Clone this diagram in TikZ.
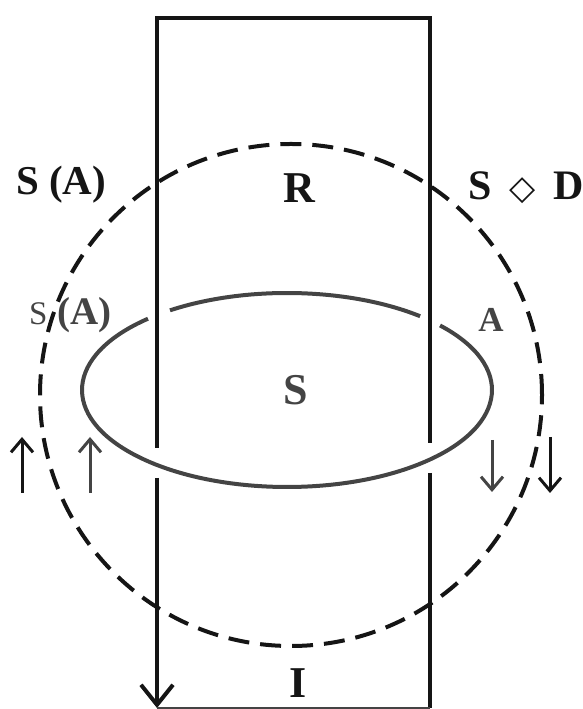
\documentclass[tikz,border=0pt]{standalone}
\usepackage{fontspec}
\setmainfont{Liberation Serif}
\newfontfamily\symfont{DejaVu Sans}
\usetikzlibrary{arrows.meta}
\definecolor{ink}{HTML}{151515}
\definecolor{lead}{HTML}{444444}

\tikzset{
  wall/.style={draw=ink,line width=4pt},
  ring/.style={draw=ink,line width=4pt,dash pattern=on 21pt off 11pt},
  disc/.style={draw=lead,line width=4pt},
  flow/.style={line width=3pt,-{Straight Barb[length=13pt,width=22pt]}},
  tag/.style={anchor=base,inner sep=0pt},
  big/.style={font=\bfseries\fontsize{44}{48}\selectfont},
  mid/.style={font=\bfseries\fontsize{41}{44}\selectfont}
}

\begin{document}
\begin{tikzpicture}[x=1pt,y=1pt]
  \useasboundingbox (0,0) rectangle (583,709);
  % column
  \draw[wall] (430,266) -- (430,691) -- (157,691) -- (157,261);
  \draw[wall] (430,236) -- (430,1);
  \draw[wall,-{Straight Barb[length=20pt,width=32pt]}] (157,231) -- (157,1);
  \draw[draw=lead,line width=1.5pt] (157,0.75) -- (430,0.75);

  % orbit and disc
  \draw[ring] (291,314) circle (251);
  \draw[disc] (287,319) ++(132.7:205 and 97)
    arc[start angle=132.7,end angle=401.7,x radius=205,y radius=97];
  \draw[disc] (287,319) ++(49.5:205 and 97)
    arc[start angle=49.5,end angle=124.8,x radius=205,y radius=97];

  % labels
  \node[tag,mid,anchor=base west,text=ink] (outerleft) at (16,514) {S (A)};
  \node[tag,big,text=ink] (region) at (299,506) {R};
  \node[tag,anchor=base east,text=ink,font=\bfseries\fontsize{42}{46}\selectfont]
    (outerright) at (584,509) {S\, {\symfont\bfseries\fontsize{34}{36}\selectfont ◇}\, D};
  \node[tag,anchor=base west,text=lead,font=\bfseries\fontsize{39}{42}\selectfont]
    (innerleft) at (29,384) {{\mdseries\fontsize{33}{35}\selectfont S} (A)};
  \node[tag,text=lead,font=\bfseries\fontsize{35}{38}\selectfont] (innerright) at (491,377) {A};
  \node[tag,big,text=lead] (core) at (296,304) {S};
  \node[tag,big,text=ink] (bottom) at (298,12) {I};

  % flows
  \foreach \x/\c/\a/\b in {22/ink/216/272, 90/lead/216/272, 492/lead/269/217, 550/ink/272/216}
    \draw[flow,draw=\c] (\x,\a) -- (\x,\b);
\end{tikzpicture}
\end{document}
